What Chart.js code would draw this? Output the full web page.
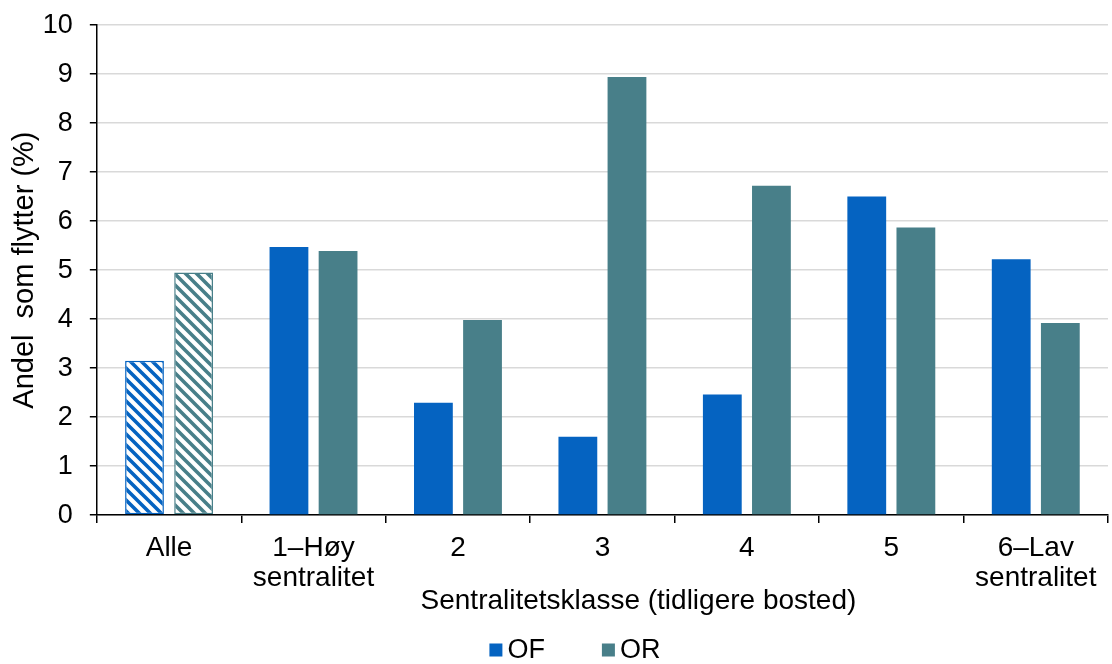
<!DOCTYPE html>
<html>
<head>
<meta charset="utf-8">
<script src="https://cdn.jsdelivr.net/npm/chart.js@4/dist/chart.umd.min.js"></script>
<style>
  html, body { margin: 0; padding: 0; background: #fff; }
  #wrap { width: 1112px; height: 664px; position: relative; }
</style>
</head>
<body>
<div id="wrap"><canvas id="chart"></canvas></div>
<script>
// Andel som flytter, etter sentralitetsklasse (tidligere bosted)
const categories = ["Alle", ["1–Høy", "sentralitet"], "2", "3", "4", "5", ["6–Lav", "sentralitet"]];
const seriesNames = ["OF", "OR"];
const valuesOF = [3.15, 5.47, 2.29, 1.60, 2.46, 6.50, 5.22];
const valuesOR = [4.95, 5.39, 3.98, 8.94, 6.72, 5.87, 3.92];
const yTicks = [0, 1, 2, 3, 4, 5, 6, 7, 8, 9, 10];
const xTitle = "Sentralitetsklasse (tidligere bosted)";
const yTitle = "Andel  som flytter (%)";

const colorOF = "#0563c1";
const colorOR = "#487f89";
const seriesColors = [colorOF, colorOR];

// Diagonal stripe fill used for the "Alle" (total) bars
function stripes(color) {
  const size = 11;
  const c = document.createElement("canvas");
  c.width = size; c.height = size;
  const g = c.getContext("2d");
  g.fillStyle = "#fff";
  g.fillRect(0, 0, size, size);
  g.strokeStyle = color;
  g.lineWidth = 3.6;
  g.lineCap = "square";
  g.beginPath();
  g.moveTo(-size, -size); g.lineTo(size * 2, size * 2);
  g.moveTo(-size * 2, -size); g.lineTo(size, size * 2);
  g.moveTo(0, -size); g.lineTo(size * 3, size * 2);
  g.moveTo(-size, 0); g.lineTo(size, size * 2);
  g.moveTo(0, -size * 2); g.lineTo(size * 2, size);
  g.stroke();
  return g.createPattern(c, "repeat");
}

function fills(color) {
  return categories.map((_, i) => i === 0 ? stripes(color) : color);
}
function borders() {
  return categories.map((_, i) => i === 0 ? 1.5 : 0);
}

const family = "'Liberation Sans', Arial, sans-serif";

// Axis title and compact legend row drawn beneath the category labels
const bottomText = {
  id: "bottomText",
  afterDraw(chart) {
    const ctx = chart.ctx;
    const area = chart.chartArea;
    ctx.save();
    ctx.textBaseline = "middle";
    ctx.fillStyle = "#000";

    // x-axis title
    ctx.font = `28px ${family}`;
    ctx.textAlign = "center";
    ctx.fillText(xTitle, (area.left + area.right) / 2 + 36, area.bottom + 86);

    // legend
    const box = 13, textGap = 5, itemGap = 57;
    ctx.font = `27px ${family}`;
    ctx.textAlign = "left";
    const items = chart.data.datasets.map((ds, i) => ({
      text: ds.label, color: seriesColors[i], w: box + textGap + ctx.measureText(ds.label).width
    }));
    const total = items.reduce((s, it) => s + it.w, 0) + itemGap * (items.length - 1);
    let x = chart.width * 0.517 - total / 2;
    const y = chart.height - 14;
    items.forEach(it => {
      ctx.fillStyle = it.color;
      ctx.fillRect(x, y - box / 2, box, box);
      ctx.fillStyle = "#000";
      ctx.fillText(it.text, x + box + textGap, y + 1);
      x += it.w + itemGap;
    });
    ctx.restore();
  }
};

new Chart(document.getElementById("chart"), {
  type: "bar",
  data: {
    labels: categories,
    datasets: [
      { label: seriesNames[0], data: valuesOF, backgroundColor: fills(colorOF), borderColor: colorOF, borderWidth: borders(), borderSkipped: false },
      { label: seriesNames[1], data: valuesOR, backgroundColor: fills(colorOR), borderColor: colorOR, borderWidth: borders(), borderSkipped: false }
    ]
  },
  plugins: [bottomText],
  options: {
    responsive: true,
    maintainAspectRatio: false,
    animation: false,
    categoryPercentage: 0.68,
    barPercentage: 0.79,
    layout: { padding: { top: 9, right: 4, left: 8, bottom: 61 } },
    plugins: {
      legend: { display: false },
      tooltip: { enabled: false }
    },
    scales: {
      x: {
        grid: { offset: true, drawOnChartArea: false, color: "#000", tickLength: 8, lineWidth: 1.5 },
        border: { color: "#000", width: 1.5 },
        ticks: { color: "#000", font: { family: family, size: 28, lineHeight: 1.07 }, padding: 10, maxRotation: 0, autoSkip: false }
      },
      y: {
        min: yTicks[0],
        max: yTicks[yTicks.length - 1],
        afterBuildTicks: (axis) => { axis.ticks = yTicks.map(v => ({ value: v })); },
        grid: { color: "#d9d9d9", lineWidth: 1.5, tickColor: "#000", tickLength: 7 },
        border: { color: "#000", width: 1.5 },
        ticks: { color: "#000", font: { family: family, size: 27, lineHeight: 0.6 }, padding: 17 },
        title: { display: true, text: yTitle, color: "#000", font: { family: family, size: 29 }, padding: { top: 0, bottom: -17 } }
      }
    }
  }
});
</script>
</body>
</html>
